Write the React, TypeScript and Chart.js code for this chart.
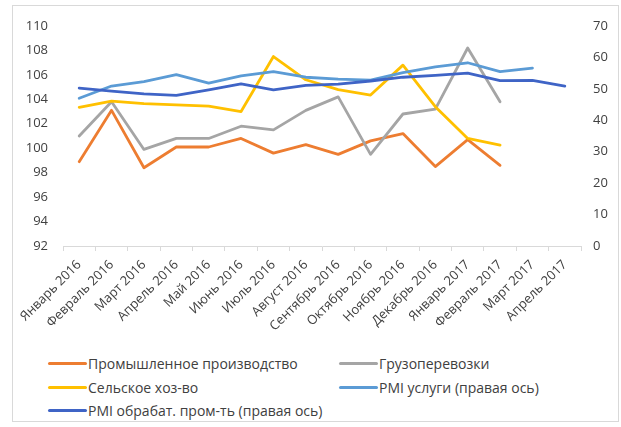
import React, { useEffect, useRef } from "react";
import { Chart, registerables } from "chart.js";

Chart.register(...registerables);

const months = [
  "Январь 2016", "Февраль 2016", "Март 2016", "Апрель 2016", "Май 2016", "Июнь 2016",
  "Июль 2016", "Август 2016", "Сентябрь 2016", "Октябрь 2016", "Ноябрь 2016", "Декабрь 2016",
  "Январь 2017", "Февраль 2017", "Март 2017", "Апрель 2017",
];

// left axis (index, %)
const industry = [98.9, 103.1, 98.4, 100.1, 100.1, 100.8, 99.6, 100.3, 99.5, 100.6, 101.2, 98.5, 100.7, 98.6, null, null];
const freight = [101.0, 103.8, 99.9, 100.8, 100.8, 101.8, 101.5, 103.1, 104.2, 99.5, 102.8, 103.2, 108.2, 103.8, null, null];
const agriculture = [103.35, 103.85, 103.65, 103.55, 103.45, 103.0, 107.5, 105.6, 104.8, 104.35, 106.8, 103.4, 100.8, 100.25, null, null];

// right axis (PMI)
const pmiServices = [47.0, 50.9, 52.3, 54.5, 51.8, 54.1, 55.5, 53.7, 53.1, 52.8, 55.2, 57.0, 58.3, 55.5, 56.6, null];
const pmiManufacturing = [50.2, 49.3, 48.4, 47.9, 49.7, 51.6, 49.7, 51.1, 51.5, 52.5, 53.7, 54.3, 55.0, 52.6, 52.7, 50.9];

const seriesNames = [
  "Промышленное производство",
  "Грузоперевозки",
  "Сельское хоз-во",
  "PMI услуги (правая ось)",
  "PMI обрабат. пром-ть (правая ось)",
];
const seriesColors = ["#ED7D31", "#A5A5A5", "#FFC000", "#5B9BD5", "#3F64C6"];

const leftTicks = { min: 92, max: 110, step: 2 };
const rightTicks = { min: 0, max: 70, step: 10 };

const FONT = "'Open Sans', 'Liberation Sans', sans-serif";
const TEXT = "#404040";

const W = 621;
const CANVAS_H = 340;

export default function App() {
  const ref = useRef<HTMLCanvasElement | null>(null);

  useEffect(() => {
    if (!ref.current) return;
    const values = [industry, freight, agriculture, pmiServices, pmiManufacturing];
    const axes = ["yL", "yL", "yL", "yR", "yR"];
    const chart = new Chart(ref.current, {
      type: "line",
      data: {
        labels: months,
        datasets: values.map((v, i) => ({
          label: seriesNames[i],
          data: v,
          yAxisID: axes[i],
          borderColor: seriesColors[i],
          backgroundColor: seriesColors[i],
          borderWidth: 2.8,
          pointRadius: 0,
          tension: 0,
          spanGaps: false,
          borderCapStyle: "round",
          borderJoinStyle: "round",
          // later series are drawn on top
          order: values.length - i,
        })),
      },
      options: {
        responsive: false,
        animation: false,
        devicePixelRatio: 1,
        layout: { padding: { top: 26, left: 0, right: 0, bottom: 0 } },
        plugins: { legend: { display: false }, tooltip: { enabled: false } },
        scales: {
          x: {
            type: "category",
            offset: true,
            grid: {
              display: true,
              offset: true,
              drawOnChartArea: false,
              drawTicks: true,
              tickLength: 5,
              color: "#d9d9d9",
            },
            border: { display: true, color: "#d9d9d9", width: 1 },
            ticks: {
              autoSkip: false,
              maxRotation: 45,
              minRotation: 45,
              padding: 6,
              color: TEXT,
              font: { family: FONT, size: 13 },
            },
            afterFit: (s: any) => {
              s.height = CANVAS_H - 246;
            },
          },
          yL: {
            type: "linear",
            position: "left",
            min: leftTicks.min,
            max: leftTicks.max,
            ticks: { stepSize: leftTicks.step, padding: 15, color: TEXT, font: { family: FONT, size: 13 } },
            grid: { display: false, drawTicks: false },
            border: { display: false },
            afterFit: (s: any) => {
              s.width = 63;
            },
          },
          yR: {
            type: "linear",
            position: "right",
            min: rightTicks.min,
            max: rightTicks.max,
            ticks: { stepSize: rightTicks.step, padding: 12, color: TEXT, font: { family: FONT, size: 13 } },
            grid: { display: false, drawTicks: false },
            border: { display: false },
            afterFit: (s: any) => {
              s.width = W - 581;
            },
          },
        },
      },
    });
    return () => chart.destroy();
  }, []);

  const legendRows = [
    [0, 1],
    [2, 3],
    [4],
  ];
  const colX = [48, 339];
  const rowY = [363, 387, 410];

  return (
    <div style={{ position: "absolute", left: 0, top: 0, width: W, height: 427, background: "#fff", fontFamily: FONT }}>
      <div
        style={{
          position: "absolute",
          left: 12,
          top: 5,
          width: 607,
          height: 417,
          border: "1px solid #d9d9d9",
          boxSizing: "border-box",
        }}
      />
      <canvas ref={ref} width={W} height={CANVAS_H} style={{ position: "absolute", left: 0, top: 0, width: W, height: CANVAS_H }} />
      {legendRows.map((row, r) =>
        row.map((idx, c) => (
          <div
            key={idx}
            style={{
              position: "absolute",
              left: colX[c],
              top: rowY[r] - 10,
              height: 20,
              display: "flex",
              alignItems: "center",
              whiteSpace: "nowrap",
            }}
          >
            <span style={{ display: "inline-block", width: 39, height: 3, background: seriesColors[idx], borderRadius: 1.5 }} />
            <span style={{ fontSize: 14, color: TEXT, marginLeft: 1 }}>{seriesNames[idx]}</span>
          </div>
        ))
      )}
    </div>
  );
}
